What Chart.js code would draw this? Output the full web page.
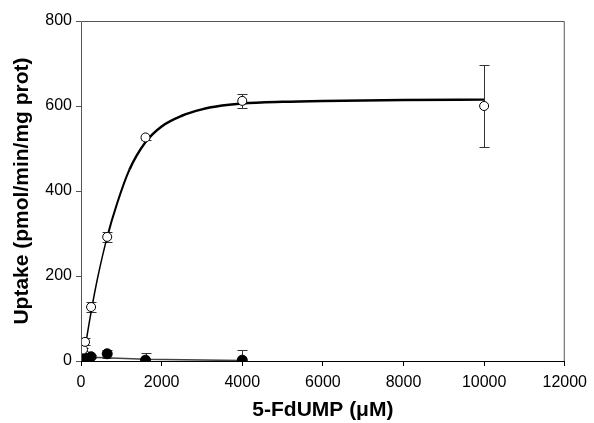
<!DOCTYPE html>
<html>
<head>
<meta charset="utf-8">
<script src="https://cdn.jsdelivr.net/npm/chart.js@4.4.0/dist/chart.umd.min.js"></script>
<style>
  html, body { margin: 0; padding: 0; background: #fff; }
  #wrap { width: 594px; height: 423px; }
</style>
</head>
<body>
<div id="wrap"><canvas id="uptake"></canvas></div>
<script>
// uptake with open symbols (mean, SD)
const openX = [50, 100, 250, 650, 1600, 4000, 10000];
const openY = [27, 45, 127, 292, 526, 612, 600];
const openErr = [4, 8, 11, 12, 5, 17, 97];

// uptake with filled symbols (mean, SD)
const filledX = [25, 50, 100, 250, 650, 1600, 4000];
const filledY = [3, 4, 7, 10, 17, 2, 2];
const filledErr = [2, 2, 3, 3, 9, 18, 24];

// fitted curve through the open symbols
const curveX = [60, 100, 250, 400, 650, 900, 1200, 1600, 2000, 2500, 3000, 3500, 4000, 5000, 6000, 8000, 10000];
const curveY = [5, 30, 115, 190, 292, 372, 450, 515, 552, 577, 592, 601, 606, 610, 612, 614, 615];

// line through the filled symbols
const lowX = [25, 250, 1600, 4000];
const lowY = [8, 9, 4, 1];

const xTicks = [0, 2000, 4000, 6000, 8000, 10000, 12000];
const yTicks = [0, 200, 400, 600, 800];

const toPoints = (xs, ys) => xs.map((x, i) => ({ x: x, y: ys[i] }));

const FONT = "'Liberation Sans', Arial, Helvetica, sans-serif";

// error bars drawn from the SD arrays through the chart scales
const errorBars = {
  id: 'errorBars',
  beforeDatasetsDraw(chart) {
    const { ctx, chartArea, scales } = chart;
    const sets = [[openX, openY, openErr], [filledX, filledY, filledErr]];
    ctx.save();
    ctx.beginPath();
    ctx.rect(chartArea.left, chartArea.top, chartArea.right - chartArea.left, chartArea.bottom - chartArea.top);
    ctx.clip();
    ctx.strokeStyle = '#333';
    ctx.lineWidth = 1;
    sets.forEach(([xs, ys, es]) => {
      xs.forEach((x, i) => {
        const px = Math.round(scales.x.getPixelForValue(x)) + 0.5;
        const top = Math.round(scales.y.getPixelForValue(ys[i] + es[i])) + 0.5;
        const bot = Math.round(scales.y.getPixelForValue(ys[i] - es[i])) + 0.5;
        ctx.beginPath();
        ctx.moveTo(px, top); ctx.lineTo(px, bot);
        ctx.moveTo(px - 5, top); ctx.lineTo(px + 5, top);
        ctx.moveTo(px - 5, bot); ctx.lineTo(px + 5, bot);
        ctx.stroke();
      });
    });
    ctx.restore();
  }
};

// box round the plot area
const frame = {
  id: 'frame',
  afterDraw(chart) {
    const { ctx, chartArea: a } = chart;
    ctx.save();
    ctx.strokeStyle = '#555';
    ctx.lineWidth = 1;
    ctx.beginPath();
    ctx.moveTo(a.left + 0.5, a.bottom);
    ctx.lineTo(a.left + 0.5, a.top + 0.5);
    ctx.lineTo(a.right - 0.5, a.top + 0.5);
    ctx.lineTo(a.right - 0.5, a.bottom);
    ctx.stroke();
    ctx.strokeStyle = '#000';
    ctx.beginPath();
    ctx.moveTo(a.left, a.bottom + 0.5);
    ctx.lineTo(a.right, a.bottom + 0.5);
    ctx.stroke();
    ctx.restore();
  }
};

new Chart(document.getElementById('uptake'), {
  type: 'scatter',
  data: {
    datasets: [
      {
        label: 'fit',
        data: toPoints(curveX, curveY),
        showLine: true,
        borderColor: '#000',
        borderWidth: 2.5,
        // thinner stroke on the steep early part
        segment: {
          borderWidth: c => (c.p1.parsed.x <= 650 ? 1.5 : c.p1.parsed.x <= 1200 ? 2 : 2.5)
        },
        pointRadius: 0,
        cubicInterpolationMode: 'monotone',
        order: 3
      },
      {
        label: 'low',
        data: toPoints(lowX, lowY),
        showLine: true,
        borderColor: '#444',
        borderWidth: 1.5,
        pointRadius: 0,
        order: 3
      },
      {
        label: 'open',
        data: toPoints(openX, openY),
        pointRadius: 4.5,
        pointBackgroundColor: '#fff',
        pointBorderColor: '#000',
        pointBorderWidth: 1,
        order: 1
      },
      {
        label: 'filled',
        data: toPoints(filledX, filledY),
        pointRadius: 5,
        pointBackgroundColor: '#000',
        pointBorderColor: '#000',
        pointBorderWidth: 1,
        order: 2
      }
    ]
  },
  options: {
    responsive: true,
    maintainAspectRatio: false,
    animation: false,
    layout: { padding: { top: 21, right: 27, left: 0, bottom: 0 } },
    plugins: {
      legend: { display: false },
      tooltip: { enabled: false }
    },
    scales: {
      x: {
        type: 'linear',
        min: 0,
        max: 12000,
        afterBuildTicks: (axis) => { axis.ticks = xTicks.map(v => ({ value: v })); },
        afterFit: (axis) => { axis.height = 62; },
        border: { display: false },
        grid: { drawOnChartArea: false, drawTicks: true, tickLength: 5, tickColor: '#000' },
        ticks: {
          color: '#000',
          font: { family: FONT, size: 16 },
          padding: 7,
          maxRotation: 0,
          callback: v => String(v)
        },
        title: {
          display: true,
          text: '5-FdUMP (\u03bcM)',
          color: '#000',
          font: { family: FONT, size: 21, weight: 'bold' },
          padding: { top: 0, bottom: 0 }
        }
      },
      y: {
        type: 'linear',
        min: 0,
        max: 800,
        afterBuildTicks: (axis) => { axis.ticks = yTicks.map(v => ({ value: v })); },
        afterFit: (axis) => { axis.width = 81; },
        border: { display: false },
        grid: { drawOnChartArea: false, drawTicks: true, tickLength: 5, tickColor: '#555' },
        ticks: { color: '#000', font: { family: FONT, size: 16 }, padding: 4, callback: v => String(v) },
        title: {
          display: true,
          text: 'Uptake (pmol/min/mg prot)',
          color: '#000',
          font: { family: FONT, size: 21, weight: 'bold' },
          padding: { top: 10, bottom: 0 }
        }
      }
    }
  },
  plugins: [errorBars, frame]
});
</script>
</body>
</html>
